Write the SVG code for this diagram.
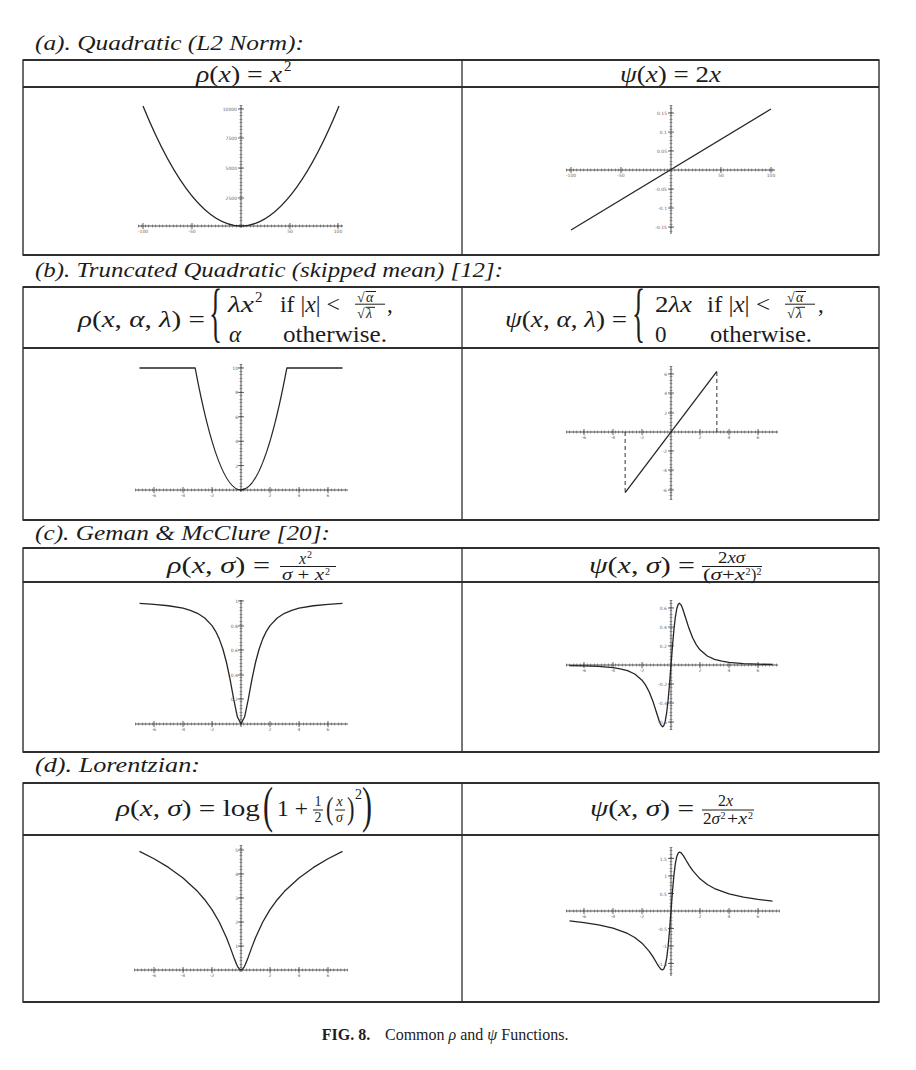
<svg xmlns="http://www.w3.org/2000/svg" width="916" height="1070" viewBox="0 0 916 1070">
<style>
.bg{fill:#ffffff}
.fr{fill:none;stroke:#2e2e2e;stroke-width:1.4}
.hl{stroke:#2e2e2e;stroke-width:2}
.vl{stroke:#2e2e2e;stroke-width:1.3}
.t{font-family:"Liberation Serif","DejaVu Serif",serif;font-style:italic;font-size:22px;fill:#1c1c1c}
.m{font-family:"Liberation Serif","DejaVu Serif",serif;font-size:23px;fill:#1c1c1c}
.i{font-style:italic}
.f{font-size:16px}
.fs{font-size:14px}
.sup{font-size:15px}
.sup2{font-size:10px}
.rule{stroke:#1c1c1c;stroke-width:1}
.cv{fill:none;stroke:#262626;stroke-width:1.3;stroke-linejoin:round}
.ax{stroke:#3a3a3a;stroke-width:0.9;fill:none}
.mt{stroke:#555555;stroke-width:3;stroke-dasharray:0.6 2.9;fill:none}
.mj{stroke:#3a3a3a;stroke-width:0.8;fill:none}
.dash{stroke:#333333;stroke-width:1;stroke-dasharray:4 3;fill:none}
.tl{font-family:"DejaVu Sans",sans-serif;font-size:4.5px;fill:#666666}
.ty{text-anchor:end}
.tx{text-anchor:middle}
.cap{font-family:"Liberation Serif","DejaVu Serif",serif;font-size:16px;fill:#1c1c1c}
</style>
<rect class="bg" x="0" y="0" width="916" height="1070"/>

<!-- ===== (a) ===== -->
<g id="title-a"><text class="t" x="35" y="50" textLength="269" lengthAdjust="spacingAndGlyphs">(a). Quadratic (L2 Norm):</text></g>
<g id="table-a">
<rect class="fr" x="23" y="60" width="856" height="195"/>
<line class="hl" x1="23" y1="60" x2="879" y2="60"/>
<line class="hl" x1="23" y1="87" x2="879" y2="87"/>
<line class="hl" x1="23" y1="255" x2="879" y2="255"/>
<line class="vl" x1="462" y1="60" x2="462" y2="255"/>
</g>
<g id="header-a-rho">
<text class="m" x="196" y="82" textLength="86" lengthAdjust="spacingAndGlyphs"><tspan class="i">ρ</tspan>(<tspan class="i">x</tspan>) = <tspan class="i">x</tspan></text>
<text class="m sup" x="284" y="71">2</text>
</g>
<g id="header-a-psi">
<text class="m" x="620" y="82" textLength="101" lengthAdjust="spacingAndGlyphs"><tspan class="i">ψ</tspan>(<tspan class="i">x</tspan>) = 2<tspan class="i">x</tspan></text>
</g>
<g id="plot-a-rho">
<line class="ax" x1="138" y1="226" x2="343" y2="226"/>
<line class="mt" x1="138" y1="226" x2="343" y2="226"/>
<line class="ax" x1="241" y1="105" x2="241" y2="228"/>
<line class="mt" x1="241" y1="105" x2="241" y2="226"/>
<path class="mj" d="M143,223V229M192,223V229M290,223V229M338,223V229M238,198H244M238,168H244M238,138H244M238,109H244"/>
<path class="cv" d="M143,106 Q241,346 339,106"/>
<g class="tl tx"><text x="143" y="233">-100</text><text x="192" y="233">-50</text><text x="290" y="233">50</text><text x="338" y="233">100</text></g>
<g class="tl ty"><text x="237" y="200">2500</text><text x="237" y="170">5000</text><text x="237" y="140">7500</text><text x="237" y="111">10000</text></g>
</g>
<g id="plot-a-psi">
<line class="ax" x1="566" y1="170" x2="775" y2="170"/>
<line class="mt" x1="566" y1="170" x2="775" y2="170"/>
<line class="ax" x1="671" y1="105" x2="671" y2="234"/>
<line class="mt" x1="671" y1="105" x2="671" y2="234"/>
<path class="mj" d="M571,167V173M621,167V173M721,167V173M771,167V173M668,113H674M668,132H674M668,151H674M668,189H674M668,208H674M668,227H674"/>
<path class="cv" d="M571,230 L771,109"/>
<g class="tl tx"><text x="571" y="177">-100</text><text x="621" y="177">-50</text><text x="721" y="177">50</text><text x="771" y="177">100</text></g>
<g class="tl ty"><text x="667" y="115">0.15</text><text x="667" y="134">0.1</text><text x="667" y="153">0.05</text><text x="667" y="191">-0.05</text><text x="667" y="210">-0.1</text><text x="667" y="229">-0.15</text></g>
</g>

<!-- ===== (b) ===== -->
<g id="title-b"><text class="t" x="35" y="277" textLength="468" lengthAdjust="spacingAndGlyphs">(b). Truncated Quadratic (skipped mean) [12]:</text></g>
<g id="table-b">
<rect class="fr" x="23" y="287" width="856" height="233"/>
<line class="hl" x1="23" y1="287" x2="879" y2="287"/>
<line class="hl" x1="23" y1="348" x2="879" y2="348"/>
<line class="hl" x1="23" y1="520" x2="879" y2="520"/>
<line class="vl" x1="462" y1="287" x2="462" y2="520"/>
</g>
<g id="header-b-rho">
<text class="m" x="78" y="327" textLength="127" lengthAdjust="spacingAndGlyphs"><tspan class="i">ρ</tspan>(<tspan class="i">x</tspan>, <tspan class="i">α</tspan>, <tspan class="i">λ</tspan>) =</text>
<text class="m" transform="translate(209,334) scale(0.42,1)" style="font-size:65px" x="0" y="0">{</text>
<text class="m i" x="228" y="312" textLength="26" lengthAdjust="spacingAndGlyphs">λx</text>
<text class="m sup" x="255" y="302">2</text>
<text class="m" x="280" y="312" textLength="60" lengthAdjust="spacingAndGlyphs">if |<tspan class="i">x</tspan>| &lt;</text>
<text class="m fs" y="301.5"><tspan x="357">√</tspan><tspan class="i" x="366">α</tspan></text>
<line class="rule" x1="365.5" y1="291.5" x2="376" y2="291.5"/>
<line class="rule" x1="355" y1="304.2" x2="385" y2="304.2"/>
<text class="m fs" y="317.5"><tspan x="357">√</tspan><tspan class="i" x="366">λ</tspan></text>
<line class="rule" x1="365.5" y1="307.3" x2="375" y2="307.3"/>
<text class="m" x="387" y="312">,</text>
<text class="m i" x="229" y="342">α</text>
<text class="m" x="283" y="342" textLength="104" lengthAdjust="spacingAndGlyphs">otherwise.</text>
</g>
<g id="header-b-psi">
<text class="m" x="505" y="327" textLength="122" lengthAdjust="spacingAndGlyphs"><tspan class="i">ψ</tspan>(<tspan class="i">x</tspan>, <tspan class="i">α</tspan>, <tspan class="i">λ</tspan>) =</text>
<text class="m" transform="translate(632,334) scale(0.42,1)" style="font-size:65px" x="0" y="0">{</text>
<text class="m" x="655" y="312" textLength="37" lengthAdjust="spacingAndGlyphs">2<tspan class="i">λx</tspan></text>
<text class="m" x="707" y="312" textLength="63" lengthAdjust="spacingAndGlyphs">if |<tspan class="i">x</tspan>| &lt;</text>
<text class="m fs" y="301.5"><tspan x="787">√</tspan><tspan class="i" x="796">α</tspan></text>
<line class="rule" x1="795.5" y1="291.5" x2="806" y2="291.5"/>
<line class="rule" x1="785" y1="304.2" x2="815" y2="304.2"/>
<text class="m fs" y="317.5"><tspan x="787">√</tspan><tspan class="i" x="796">λ</tspan></text>
<line class="rule" x1="795.5" y1="307.3" x2="805" y2="307.3"/>
<text class="m" x="818" y="312">,</text>
<text class="m" x="655" y="342">0</text>
<text class="m" x="710" y="342" textLength="102" lengthAdjust="spacingAndGlyphs">otherwise.</text>
</g>
<g id="plot-b-rho">
<line class="ax" x1="135" y1="490" x2="348" y2="490"/>
<line class="mt" x1="135" y1="490" x2="348" y2="490"/>
<line class="ax" x1="241" y1="364" x2="241" y2="492"/>
<line class="mt" x1="241" y1="364" x2="241" y2="490"/>
<path class="mj" d="M154,487V493M183,487V493M212,487V493M270,487V493M299,487V493M328,487V493M238,368H244M238,392.4H244M238,416.8H244M238,441.2H244M238,465.6H244"/>
<path class="cv" d="M139.5,368 L195.15,368 Q241,612 286.85,368 L342.5,368"/>
<g class="tl tx"><text x="154" y="497">-6</text><text x="183" y="497">-4</text><text x="212" y="497">-2</text><text x="270" y="497">2</text><text x="299" y="497">4</text><text x="328" y="497">6</text></g>
<g class="tl ty"><text x="238" y="370">10</text><text x="238" y="394">8</text><text x="238" y="419">6</text><text x="238" y="443">4</text><text x="238" y="468">2</text></g>
</g>
<g id="plot-b-psi">
<line class="ax" x1="566" y1="432" x2="778" y2="432"/>
<line class="mt" x1="566" y1="432" x2="778" y2="432"/>
<line class="ax" x1="671" y1="366" x2="671" y2="500"/>
<line class="mt" x1="671" y1="366" x2="671" y2="500"/>
<path class="mj" d="M584,429V435M613,429V435M642,429V435M700,429V435M729,429V435M758,429V435M668,374H674M668,393H674M668,413H674M668,451H674M668,470H674M668,490H674"/>
<path class="dash" d="M716.85,372 V432 M625.15,432 V492.7"/>
<path class="cv" d="M625.15,492.7 L716.85,371.3"/>
<g class="tl tx"><text x="584" y="439">-6</text><text x="613" y="439">-4</text><text x="642" y="439">-2</text><text x="700" y="439">2</text><text x="729" y="439">4</text><text x="758" y="439">6</text></g>
<g class="tl ty"><text x="667" y="376">6</text><text x="667" y="395">4</text><text x="667" y="415">2</text><text x="667" y="453">-2</text><text x="667" y="472">-4</text><text x="667" y="492">-6</text></g>
</g>

<!-- ===== (c) ===== -->
<g id="title-c"><text class="t" x="35" y="540" textLength="295" lengthAdjust="spacingAndGlyphs">(c). Geman &amp; McClure [20]:</text></g>
<g id="table-c">
<rect class="fr" x="23" y="548" width="856" height="204"/>
<line class="hl" x1="23" y1="548" x2="879" y2="548"/>
<line class="hl" x1="23" y1="582" x2="879" y2="582"/>
<line class="hl" x1="23" y1="752" x2="879" y2="752"/>
<line class="vl" x1="462" y1="548" x2="462" y2="752"/>
</g>
<g id="header-c-rho">
<text class="m" x="167" y="573" textLength="103" lengthAdjust="spacingAndGlyphs"><tspan class="i">ρ</tspan>(<tspan class="i">x</tspan>, <tspan class="i">σ</tspan>) =</text>
<text class="m f i" x="299" y="563.5">x</text>
<text class="m sup2" x="307" y="557.5">2</text>
<line class="rule" x1="280" y1="566.5" x2="336" y2="566.5"/>
<text class="m f" x="282" y="579.5" textLength="42" lengthAdjust="spacingAndGlyphs"><tspan class="i">σ</tspan> + <tspan class="i">x</tspan></text>
<text class="m sup2" x="325" y="574.5">2</text>
</g>
<g id="header-c-psi">
<text class="m" x="589" y="573" textLength="106" lengthAdjust="spacingAndGlyphs"><tspan class="i">ψ</tspan>(<tspan class="i">x</tspan>, <tspan class="i">σ</tspan>) =</text>
<text class="m f" x="718" y="563" textLength="27" lengthAdjust="spacingAndGlyphs">2<tspan class="i">xσ</tspan></text>
<line class="rule" x1="702" y1="566.5" x2="762" y2="566.5"/>
<text class="m f" x="703" y="579.5" textLength="42" lengthAdjust="spacingAndGlyphs">(<tspan class="i">σ</tspan>+<tspan class="i">x</tspan></text>
<text class="m sup2" x="745.5" y="575">2</text>
<text class="m f" x="751" y="579.5">)</text>
<text class="m sup2" x="756.5" y="575">2</text>
</g>
<g id="plot-c-rho">
<line class="ax" x1="135" y1="724" x2="348" y2="724"/>
<line class="mt" x1="135" y1="724" x2="348" y2="724"/>
<line class="ax" x1="241" y1="600" x2="241" y2="727"/>
<line class="mt" x1="241" y1="600" x2="241" y2="724"/>
<path class="mj" d="M154,721V727M183,721V727M212,721V727M270,721V727M299,721V727M328,721V727M238,601H244M238,626H244M238,650H244M238,675H244M238,699H244"/>
<path class="cv" d="M139.5,603.46 L154,604.32 L168.5,605.74 L183,608.23 L190.25,610.28 L197.5,613.3 L204.75,617.96 L212,625.6 L215.62,631.28 L219.25,638.85 L222.87,649 L226.5,662.5 L230.12,679.72 L233.75,699.4 L237.37,716.77 L241,724 L244.63,716.77 L248.25,699.4 L251.88,679.72 L255.5,662.5 L259.13,649 L262.75,638.85 L266.38,631.28 L270,625.6 L277.25,617.96 L284.5,613.3 L291.75,610.28 L299,608.23 L313.5,605.74 L328,604.32 L342.5,603.46"/>
<g class="tl tx"><text x="154" y="731">-6</text><text x="183" y="731">-4</text><text x="212" y="731">-2</text><text x="270" y="731">2</text><text x="299" y="731">4</text><text x="328" y="731">6</text></g>
<g class="tl ty"><text x="238" y="603">1</text><text x="238" y="628">0.8</text><text x="238" y="652">0.6</text><text x="238" y="677">0.4</text><text x="238" y="701">0.2</text></g>
</g>
<g id="plot-c-psi">
<line class="ax" x1="566" y1="665" x2="778" y2="665"/>
<line class="mt" x1="566" y1="665" x2="778" y2="665"/>
<line class="ax" x1="671" y1="600" x2="671" y2="730"/>
<line class="mt" x1="671" y1="600" x2="671" y2="730"/>
<path class="mj" d="M584,662V668M613,662V668M642,662V668M700,662V668M729,662V668M758,662V668M668,608H674M668,627H674M668,646H674M668,684H674M668,703H674M668,722H674"/>
<path class="cv" d="M569.5,665.53 L584,665.83 L598.5,666.41 L613,667.63 L620.25,668.79 L627.5,670.7 L634.75,674.03 L642,680.2 L645.62,685.15 L649.25,691.98 L652.87,701.17 L656.5,712.5 L659.4,721.52 L660.85,724.91 L662.63,726.7 L663.75,725.8 L665.2,721.48 L666.65,712.97 L668.1,700.13 L669.55,683.63 L671,665 L672.45,646.37 L673.9,629.87 L675.35,617.03 L676.8,608.52 L678.25,604.2 L679.37,603.3 L681.15,605.09 L682.6,608.48 L685.5,617.5 L689.13,628.83 L692.75,638.02 L696.38,644.85 L700,649.8 L707.25,655.97 L714.5,659.3 L721.75,661.21 L729,662.37 L743.5,663.59 L758,664.17 L772.5,664.47"/>
<g class="tl tx"><text x="584" y="672">-6</text><text x="613" y="672">-4</text><text x="642" y="672">-2</text><text x="700" y="672">2</text><text x="729" y="672">4</text><text x="758" y="672">6</text></g>
<g class="tl ty"><text x="667" y="610">0.6</text><text x="667" y="629">0.4</text><text x="667" y="648">0.2</text><text x="667" y="686">-0.2</text><text x="667" y="705">-0.4</text><text x="667" y="724">-0.6</text></g>
</g>

<!-- ===== (d) ===== -->
<g id="title-d"><text class="t" x="35" y="772" textLength="165" lengthAdjust="spacingAndGlyphs">(d). Lorentzian:</text></g>
<g id="table-d">
<rect class="fr" x="23" y="783" width="856" height="219"/>
<line class="hl" x1="23" y1="783" x2="879" y2="783"/>
<line class="hl" x1="23" y1="835" x2="879" y2="835"/>
<line class="hl" x1="23" y1="1002" x2="879" y2="1002"/>
<line class="vl" x1="462" y1="783" x2="462" y2="1002"/>
</g>
<g id="header-d-rho">
<text class="m" x="116" y="816" textLength="144" lengthAdjust="spacingAndGlyphs"><tspan class="i">ρ</tspan>(<tspan class="i">x</tspan>, <tspan class="i">σ</tspan>) = log</text>
<text class="m" transform="translate(263,821.5) scale(0.6,1)" style="font-size:50px" x="0" y="0">(</text>
<text class="m" x="277" y="816" textLength="31" lengthAdjust="spacingAndGlyphs">1 +</text>
<text class="m fs" x="314.5" y="806">1</text>
<line class="rule" x1="313" y1="810" x2="323" y2="810"/>
<text class="m fs" x="314.5" y="822">2</text>
<text class="m" transform="translate(326,819) scale(0.7,1)" style="font-size:32px" x="0" y="0">(</text>
<text class="m fs i" x="336.5" y="806">x</text>
<line class="rule" x1="335" y1="810" x2="345" y2="810"/>
<text class="m fs i" x="336" y="822">σ</text>
<text class="m" transform="translate(347,819) scale(0.7,1)" style="font-size:32px" x="0" y="0">)</text>
<text class="m fs" x="355" y="799">2</text>
<text class="m" transform="translate(362,821.5) scale(0.6,1)" style="font-size:50px" x="0" y="0">)</text>
</g>
<g id="header-d-psi">
<text class="m" x="590" y="816" textLength="104" lengthAdjust="spacingAndGlyphs"><tspan class="i">ψ</tspan>(<tspan class="i">x</tspan>, <tspan class="i">σ</tspan>) =</text>
<text class="m f" x="718" y="806"><tspan>2</tspan><tspan class="i">x</tspan></text>
<line class="rule" x1="702" y1="810" x2="754" y2="810"/>
<text class="m f" x="703" y="823.5" textLength="17" lengthAdjust="spacingAndGlyphs">2<tspan class="i">σ</tspan></text>
<text class="m sup2" x="720.5" y="818.5">2</text>
<text class="m f" x="727" y="823.5" textLength="20" lengthAdjust="spacingAndGlyphs">+<tspan class="i">x</tspan></text>
<text class="m sup2" x="748" y="818.5">2</text>
</g>
<g id="plot-d-rho">
<line class="ax" x1="134" y1="970" x2="348" y2="970"/>
<line class="mt" x1="134" y1="970" x2="348" y2="970"/>
<line class="ax" x1="241" y1="845" x2="241" y2="972"/>
<line class="mt" x1="241" y1="845" x2="241" y2="970"/>
<path class="mj" d="M154,967V973M183,967V973M212,967V973M270,967V973M299,967V973M328,967V973M238,850H244M238,874H244M238,898H244M238,922H244M238,946H244"/>
<path class="cv" d="M139.5,851.42 L154,858.76 L168.5,867.41 L183,877.94 L197.5,891.34 L204.75,899.7 L212,909.7 L219.25,922.04 L226.5,937.75 L230.12,947.12 L233.75,957.15 L236.65,964.55 L238.1,967.42 L239.55,969.33 L241,970 L242.45,969.33 L243.9,967.42 L245.35,964.55 L248.25,957.15 L251.88,947.12 L255.5,937.75 L262.75,922.04 L270,909.7 L277.25,899.7 L284.5,891.34 L299,877.94 L313.5,867.41 L328,858.76 L342.5,851.42"/>
<g class="tl tx"><text x="154" y="977">-6</text><text x="183" y="977">-4</text><text x="212" y="977">-2</text><text x="270" y="977">2</text><text x="299" y="977">4</text><text x="328" y="977">6</text></g>
<g class="tl ty"><text x="238" y="852">5</text><text x="238" y="876">4</text><text x="238" y="900">3</text><text x="238" y="924">2</text><text x="238" y="948">1</text></g>
</g>
<g id="plot-d-psi">
<line class="ax" x1="566" y1="911" x2="780" y2="911"/>
<line class="mt" x1="566" y1="911" x2="780" y2="911"/>
<line class="ax" x1="671" y1="847" x2="671" y2="976"/>
<line class="mt" x1="671" y1="847" x2="671" y2="976"/>
<path class="mj" d="M584,908V914M613,908V914M642,908V914M700,908V914M729,908V914M758,908V914M668,858.5H674M668,876H674M668,893.5H674M668,928.5H674M668,946H674M668,963.5H674"/>
<path class="cv" d="M569.5,920.93 L584,922.55 L598.5,924.8 L613,928.12 L627.5,933.45 L634.75,937.51 L642,943.16 L649.25,951.34 L652.87,956.69 L656.5,962.74 L658.67,966.33 L660.85,969.14 L662.39,969.93 L663.75,969.06 L665.2,965.6 L666.65,958.42 L668.1,946.64 L669.55,930.3 L671,911 L672.45,891.7 L673.9,875.36 L675.35,863.58 L676.8,856.4 L678.25,852.94 L679.61,852.07 L681.15,852.86 L683.33,855.67 L685.5,859.26 L689.13,865.31 L692.75,870.66 L700,878.84 L707.25,884.49 L714.5,888.55 L729,893.88 L743.5,897.2 L758,899.45 L772.5,901.07"/>
<g class="tl tx"><text x="584" y="918">-6</text><text x="613" y="918">-4</text><text x="642" y="918">-2</text><text x="700" y="918">2</text><text x="729" y="918">4</text><text x="758" y="918">6</text></g>
<g class="tl ty"><text x="667" y="860.5">1.5</text><text x="667" y="878">1</text><text x="667" y="895.5">0.5</text><text x="667" y="930.5">-0.5</text><text x="667" y="948">-1</text><text x="667" y="965.5">-1.5</text></g>
</g>

<g id="caption">
<text class="cap" y="1040"><tspan x="321.7" font-weight="bold">FIG. 8.</tspan><tspan x="385">Common </tspan><tspan class="i">ρ</tspan><tspan> and </tspan><tspan class="i">ψ</tspan><tspan> Functions.</tspan></text>
</g>
</svg>
